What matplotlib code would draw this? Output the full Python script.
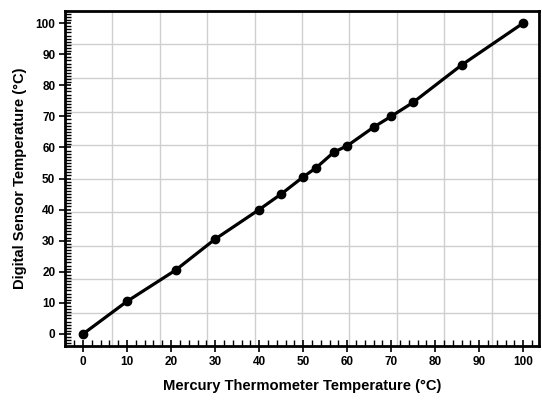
import numpy as np
import matplotlib.pyplot as plt
from matplotlib.ticker import MultipleLocator

# readings: mercury thermometer vs digital sensor
mercury_temp = [0, 10, 21, 30, 40, 45, 50, 53, 57, 60, 66, 70, 75, 86, 100]
sensor_temp = [0, 10.5, 20.5, 30.5, 40, 45, 50.5, 53.5, 58.5, 60.5, 66.5, 70, 74.5, 86.5, 100]

plt.rcParams['font.family'] = ['Liberation Sans', 'DejaVu Sans']
plt.rcParams['font.weight'] = 'bold'

fig = plt.figure(figsize=(5.42, 4.01), dpi=100)
ax = fig.add_axes([0.12, 0.137, 0.8745, 0.8356])

# grid is at tenths of the box, not on the ticks
for f in np.arange(1, 10) / 10:
    ax.plot([f, f], [0, 1], transform=ax.transAxes, color='#cfcfcf', lw=1, zorder=0)
    ax.plot([0, 1], [f, f], transform=ax.transAxes, color='#cfcfcf', lw=1, zorder=0)

ax.plot(mercury_temp, sensor_temp, color='black', lw=2.3, marker='o', markersize=6, zorder=3)

ax.set_xlim(-4.1, 103.6)
ax.set_ylim(-3.9, 103.9)
ax.xaxis.set_major_locator(MultipleLocator(10))
ax.xaxis.set_minor_locator(MultipleLocator(2))
ax.yaxis.set_major_locator(MultipleLocator(10))
ax.yaxis.set_minor_locator(MultipleLocator(1))
ax.tick_params(which='major', direction='inout', length=9, width=1.2, labelsize=8.5, pad=2.5)
ax.tick_params(which='minor', direction='in', length=4.5, width=1)

for s in ax.spines.values():
    s.set_linewidth(2)

ax.set_xlabel('Mercury Thermometer Temperature (°C)', fontsize=10.6, fontweight='bold', labelpad=8)
ax.set_ylabel('Digital Sensor Temperature (°C)', fontsize=10.6, fontweight='bold', labelpad=6)

fig.savefig('out.png', dpi=100)
